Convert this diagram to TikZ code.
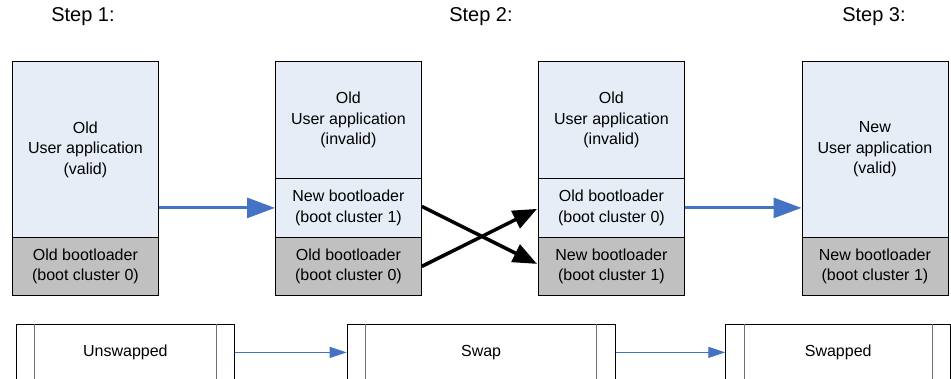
\documentclass[tikz,border=0pt]{standalone}
\usepackage{fontspec}
\setmainfont{Liberation Sans}
\usetikzlibrary{arrows.meta,calc}
\definecolor{appblue}{HTML}{E6EDF7}
\definecolor{bootgray}{HTML}{C0C0C0}
\definecolor{arrowblue}{HTML}{4472C4}
\definecolor{innergray}{HTML}{707070}
\begin{document}
\begin{tikzpicture}[x=1pt,y=-1pt,
  mem/.style={draw=black, line width=0.8pt, inner sep=0pt, anchor=north west,
    minimum width=146pt, align=center, font=\fontsize{16}{20.5}\selectfont},
  app/.style={mem, fill=appblue},
  boot/.style={mem, fill=bootgray},
  steplabel/.style={inner sep=0pt, font=\fontsize{20}{24}\selectfont},
  proc/.style={draw=black, line width=0.8pt, inner sep=0pt, anchor=north west,
    minimum height=56pt, font=\fontsize{16}{20.5}\selectfont},
  innerline/.style={draw=innergray, line width=1pt},
  bigblue/.style={draw=arrowblue, line width=3pt, -{Triangle[length=28pt,width=20pt]}},
  cross/.style={draw=black, line width=3.5pt, -{Triangle[length=24pt,width=19pt]}},
  thinblue/.style={draw=arrowblue, line width=1pt, -{Triangle[length=17pt,width=11pt]}}
]
\path[use as bounding box] (0,0) rectangle (951,378);
\clip (0,0) rectangle (951,378);

% step labels
\node[steplabel] (s1) at (83,17) {Step 1:};
\node[steplabel] (s2) at (481,17) {Step 2:};
\node[steplabel] (s3) at (874,17) {Step 3:};

% box 1
\node[app, minimum height=176pt] (b1app) at (12,61) {Old\\User application\\(valid)};
\node[boot, minimum height=58pt] (b1boot) at (12,237) {Old bootloader\\(boot cluster 0)};

% box 2
\node[app, minimum height=117pt] (b2app) at (275,61) {Old\\User application\\(invalid)};
\node[app, minimum height=59pt] (b2nb) at (275,178) {New bootloader\\(boot cluster 1)};
\node[boot, minimum height=58pt] (b2ob) at (275,237) {Old bootloader\\(boot cluster 0)};

% box 3
\node[app, minimum height=117pt] (b3app) at (538,61) {Old\\User application\\(invalid)};
\node[app, minimum height=59pt] (b3ob) at (538,178) {Old bootloader\\(boot cluster 0)};
\node[boot, minimum height=58pt] (b3nb) at (538,237) {New bootloader\\(boot cluster 1)};

% box 4
\node[app, minimum height=176pt] (b4app) at (801.5,61) {New\\User application\\(valid)};
\node[boot, minimum height=58pt] (b4boot) at (801.5,237) {New bootloader\\(boot cluster 1)};

% arrows between memory maps
\draw[bigblue] (b1app.east |- b2nb.west) -- (b2nb.west);
\draw[bigblue] (b3ob.east) -- (b3ob.east -| b4app.west);
\draw[cross] ($(b2nb.east)+(0,-1.5)$) -- ($(b3nb.west)+(-1,-2.5)$);
\draw[cross] (b2ob.east) -- ($(b3ob.west)+(-1,1)$);

% process boxes
\node[proc, minimum width=218.6pt] (pA) at (15.7,324) {Unswapped};
\node[proc, minimum width=268pt] (pB) at (346.7,324) {Swap};
\node[proc, minimum width=225pt] (pC) at (725.3,324) {Swapped};
\foreach \n in {pA,pB,pC}{
  \draw[innerline] ($(\n.north west)+(18.7,0)$) -- ($(\n.south west)+(18.7,0)$);
  \draw[innerline] ($(\n.north east)+(-18.7,0)$) -- ($(\n.south east)+(-18.7,0)$);
}
\draw[thinblue] (pA.east) -- (pB.west);
\draw[thinblue] (pB.east) -- (pC.west);
\end{tikzpicture}
\end{document}
